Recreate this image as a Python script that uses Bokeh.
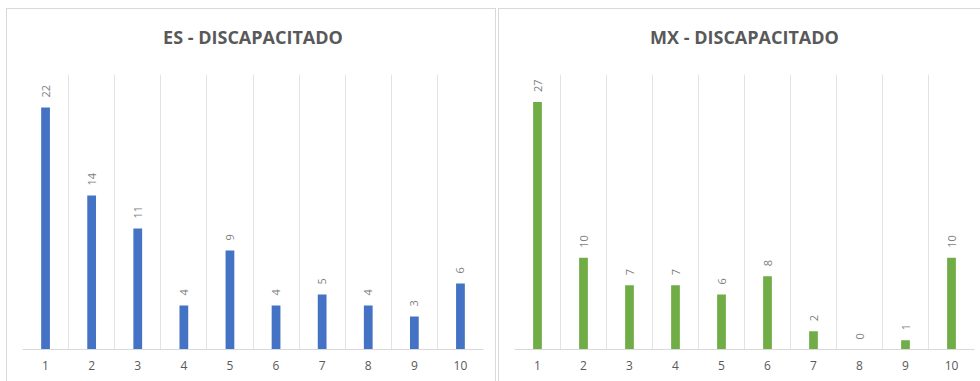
import math

from bokeh.core.properties import value
from bokeh.embed import file_html
from bokeh.layouts import row
from bokeh.models import ColumnDataSource, FixedTicker, LinearAxis, Range1d
from bokeh.plotting import figure
from bokeh.resources import INLINE

# Ranking positions 1..10 and the count at each position
positions = [1, 2, 3, 4, 5, 6, 7, 8, 9, 10]
tick_labels = ["1", "2", "3", "4", "5", "6", "7", "8", "9", "10"]
es_counts = [22, 14, 11, 4, 9, 4, 5, 4, 3, 6]
mx_counts = [27, 10, 7, 7, 6, 8, 2, 0, 1, 10]

es_title = "ES - DISCAPACITADO"
mx_title = "MX - DISCAPACITADO"
es_color = "#4472C4"
mx_color = "#70AD47"

FONT = "Open Sans"


def panel(title, counts, color, y_max, width, border_right, styles, margin):
    p = figure(
        width=width,
        height=373,
        x_range=Range1d(0.5, 10.5),
        y_range=Range1d(0, y_max),
        output_backend="svg",
        toolbar_location=None,
        min_border_left=15,
        min_border_right=border_right,
        min_border_top=65,
        min_border_bottom=33,
    )
    p.styles = styles
    p.margin = margin

    # heading: an unticked axis above the plot area carries the chart name
    head = LinearAxis(
        ticker=FixedTicker(ticks=[]),
        axis_label=title,
        axis_line_color=None,
        major_tick_line_color=None,
        minor_tick_line_color=None,
        major_tick_out=0,
        major_tick_in=0,
        minor_tick_out=0,
        major_label_standoff=0,
        axis_label_standoff=26,
        axis_label_text_font=FONT,
        axis_label_text_font_size="18px",
        axis_label_text_font_style="bold",
        axis_label_text_color="#595959",
    )
    p.add_layout(head, "above")

    p.outline_line_color = None
    p.background_fill_color = "white"
    p.border_fill_color = "white"

    src = ColumnDataSource(dict(
        x=positions,
        y=counts,
        label=[str(v) for v in counts],
    ))
    p.vbar(x="x", top="y", width=0.19, bottom=0, source=src,
           fill_color=color, line_color=None)
    p.text(x="x", y="y", text="label", source=src,
           angle=math.pi / 2, text_align="left", text_baseline="middle",
           y_offset=-10, text_font_size="11px", text_color="#808080",
           text_font=value(FONT))

    # category separators
    p.xgrid.ticker = FixedTicker(ticks=[i + 0.5 for i in range(0, 11)])
    p.xgrid.grid_line_color = "#e3e3e3"
    p.ygrid.grid_line_color = None

    p.yaxis.visible = False
    ax = p.below[0]
    ax.ticker = FixedTicker(ticks=positions)
    ax.major_label_overrides = {i: s for i, s in zip(positions, tick_labels)}
    ax.axis_line_color = "#d9d9d9"
    ax.axis_line_width = 1.2
    ax.major_tick_line_color = None
    ax.minor_tick_line_color = None
    ax.major_tick_out = 0
    ax.major_label_standoff = 11
    ax.major_label_text_font = FONT
    ax.major_label_text_font_size = "12px"
    ax.major_label_text_color = "#595959"
    return p


border = "1.5px solid #d9d9d9"
left = panel(es_title, es_counts, es_color, 25, 490, 14,
             {"border-top": border, "border-left": border, "border-right": border,
              "box-sizing": "border-box"},
             (8, 0, 0, 6))
right = panel(mx_title, mx_counts, mx_color, 30, 482, 7,
              {"border-top": border, "border-left": border,
               "box-sizing": "border-box"},
              (8, 0, 0, 2))

layout = row(left, right)
layout.margin = 0
layout.spacing = 0

with open("out.html", "w") as f:
    f.write(file_html(layout, INLINE))
